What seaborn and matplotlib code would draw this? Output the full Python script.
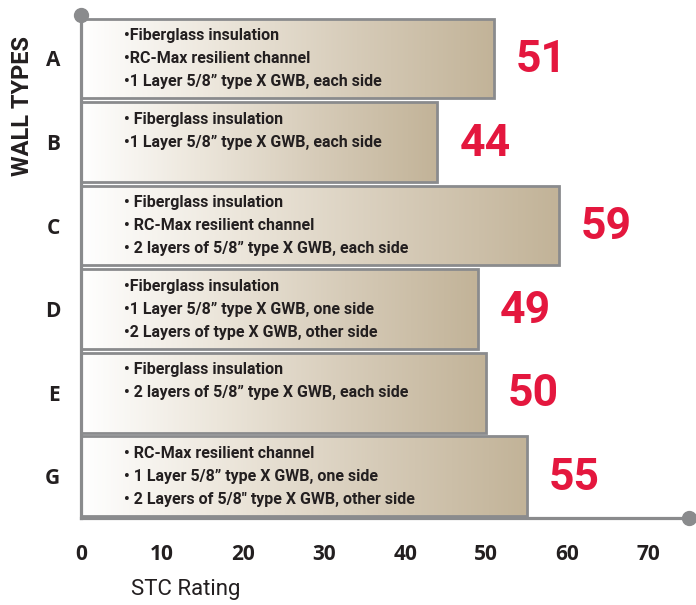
import numpy as np
import pandas as pd
import matplotlib
matplotlib.use("Agg")
import matplotlib.pyplot as plt
from matplotlib.colors import LinearSegmentedColormap
import seaborn as sns

# chart data
wall_types = ["A", "B", "C", "D", "E", "G"]
stc_ratings = [51, 44, 59, 49, 50, 55]
descriptions = [
    ["•Fiberglass insulation", "•RC-Max resilient channel", "•1 Layer 5/8” type X GWB, each side"],
    ["• Fiberglass insulation", "•1 Layer 5/8” type X GWB, each side"],
    ["• Fiberglass insulation", "• RC-Max resilient channel", "• 2 layers of 5/8” type X GWB, each side"],
    ["•Fiberglass insulation", "•1 Layer 5/8” type X GWB, one side", "•2 Layers of type X GWB, other side"],
    ["• Fiberglass insulation", "• 2 layers of 5/8” type X GWB, each side"],
    ["• RC-Max resilient channel", "• 1 Layer 5/8” type X GWB, one side", "• 2 Layers of 5/8\" type X GWB, other side"],
]
x_ticks = [0, 10, 20, 30, 40, 50, 60, 70]

df = pd.DataFrame({"wall": wall_types, "stc": stc_ratings})

sns.set_style("white")
narrow = ["Roboto", "DejaVu Sans"]
axis_gray = "#8a8b8d"
dark = "#231f20"
red = "#e4173e"

fig = plt.figure(figsize=(6.96, 6.05), dpi=100)
ax = fig.add_axes([0.1164, 0.1438, 0.873, 0.8314])

sns.barplot(data=df, x="stc", y="wall", orient="h", width=0.955,
            facecolor="none", edgecolor=axis_gray, linewidth=2, ax=ax, zorder=3)

# gradient fill inside each bar
cmap = LinearSegmentedColormap.from_list("tan", ["#ffffff", "#ece6db", "#d6cbb8", "#c2b398"], N=256)
grad = np.linspace(0, 1, 256).reshape(1, -1)
for p in ax.patches:
    x0, y0, w, h = p.get_x(), p.get_y(), p.get_width(), p.get_height()
    im = ax.imshow(grad, extent=[x0, x0 + w, y0 + h, y0], aspect="auto",
                   cmap=cmap, zorder=2, interpolation="bilinear")
    im.set_clip_path(p)

ax.set_xlim(0, 75)
ax.set_ylim(5.5, -0.52)

# description lines and red values
for i, (val, lines) in enumerate(zip(stc_ratings, descriptions)):
    for j, line in enumerate(lines):
        ax.text(5.3, i + (j - 1) * 0.275, line, family=narrow, fontweight="bold",
                fontsize=11.5, color=dark, va="center", ha="left", zorder=4)
    ax.text(val + 2.7, i + 0.02, str(val), family=narrow, fontweight="bold",
            fontsize=32, color=red, va="center", ha="left", zorder=4)

# axes styling
for s in ["top", "right"]:
    ax.spines[s].set_visible(False)
for s in ["left", "bottom"]:
    ax.spines[s].set_color(axis_gray)
    ax.spines[s].set_linewidth(2.3)
    ax.spines[s].set_zorder(5)
ax.plot([0], [-0.52], "o", color=axis_gray, markersize=10, clip_on=False, zorder=6)
ax.plot([75], [5.5], "o", color=axis_gray, markersize=10, clip_on=False, zorder=6)

ax.set_xticks(x_ticks)
ax.set_xticklabels([str(t) for t in x_ticks], fontsize=15, fontweight="bold",
                   family="Open Sans", color=dark)
ax.set_yticks(range(len(wall_types)))
ax.set_yticklabels(wall_types, fontsize=15, fontweight="bold", family="Open Sans", color=dark)
ax.tick_params(axis="x", length=0, pad=19)
ax.tick_params(axis="y", length=0, pad=15)

ax.set_xlabel("")
ax.set_ylabel("")
fig.text(0.033, 0.825, "WALL TYPES", rotation=90, family=narrow,
         fontweight="bold", fontsize=17, color=dark, ha="center", va="center")
fig.text(0.267, 0.016, "STC Rating", family=narrow, fontsize=16, color=dark,
         ha="center", va="baseline")

fig.savefig("out.png", dpi=100)
